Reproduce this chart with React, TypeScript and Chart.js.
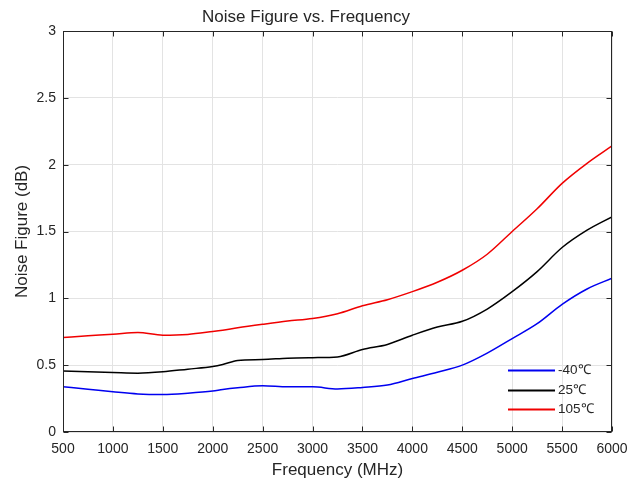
import React, { useEffect, useRef } from 'react';
import { Chart, registerables } from 'chart.js';

Chart.register(...registerables);

// ---- data ----
const frequencies = [500, 750, 1000, 1250, 1500, 1750, 2000, 2100, 2250, 2500, 2750, 3000, 3250, 3500, 3750, 4000, 4250, 4500, 4750, 5000, 5250, 5500, 5750, 6000];
const nfMinus40 = [0.338, 0.32, 0.301, 0.285, 0.281, 0.29, 0.306, 0.318, 0.331, 0.346, 0.338, 0.338, 0.322, 0.333, 0.351, 0.4, 0.447, 0.5, 0.59, 0.699, 0.81, 0.955, 1.07, 1.15];
const nf25 = [0.457, 0.45, 0.445, 0.44, 0.45, 0.47, 0.49, 0.505, 0.535, 0.542, 0.552, 0.556, 0.562, 0.617, 0.655, 0.724, 0.785, 0.828, 0.92, 1.05, 1.2, 1.38, 1.51, 1.61];
const nf105 = [0.707, 0.72, 0.731, 0.745, 0.724, 0.73, 0.752, 0.762, 0.78, 0.806, 0.83, 0.849, 0.885, 0.945, 0.99, 1.05, 1.12, 1.21, 1.33, 1.5, 1.67, 1.86, 2.01, 2.14];
const seriesLabels = ['-40℃', '25℃', '105℃'];
const seriesColors = ['#0000f0', '#000000', '#f00000'];
const xTicks = [500, 1000, 1500, 2000, 2500, 3000, 3500, 4000, 4500, 5000, 5500, 6000];
const yTicks = [0, 0.5, 1, 1.5, 2, 2.5, 3];
const chartTitle = 'Noise Figure vs. Frequency';
const xTitle = 'Frequency (MHz)';
const yTitle = 'Noise Figure (dB)';

const FONT = '"Liberation Sans", Arial, Helvetica, sans-serif';
const TEXT = '#262626';
const AXIS = '#262626';
const GRID = '#e3e3e3';

const framePlugin = {
  id: 'matlabFrame',
  afterDraw(chart: any) {
    const { ctx, chartArea: a, scales } = chart;
    ctx.save();
    ctx.strokeStyle = AXIS;
    ctx.lineWidth = 1;
    const L = Math.round(a.left) + 0.5;
    const R = Math.round(a.right) - 0.5;
    const T = Math.round(a.top) + 0.5;
    const B = Math.round(a.bottom) - 0.5;
    ctx.strokeRect(L, T, R - L, B - T);
    const tl = 5;
    ctx.beginPath();
    scales.x.ticks.forEach((t: any) => {
      const px = Math.round(scales.x.getPixelForValue(t.value)) + 0.5;
      ctx.moveTo(px, B); ctx.lineTo(px, B - tl);
      ctx.moveTo(px, T); ctx.lineTo(px, T + tl);
    });
    scales.y.ticks.forEach((t: any) => {
      const py = Math.round(scales.y.getPixelForValue(t.value)) + 0.5;
      ctx.moveTo(L, py); ctx.lineTo(L + tl, py);
      ctx.moveTo(R, py); ctx.lineTo(R - tl, py);
    });
    ctx.stroke();

    // legend (inside, lower right, no box)
    const ds = chart.data.datasets;
    ctx.font = `13.5px ${FONT}`;
    ctx.textBaseline = 'middle';
    ctx.textAlign = 'left';
    ds.forEach((d: any, i: number) => {
      const y = Math.round(a.bottom - 62 + i * 19.5) + 0.5;
      ctx.strokeStyle = d.borderColor;
      ctx.lineWidth = 2;
      ctx.beginPath();
      ctx.moveTo(a.right - 104, y);
      ctx.lineTo(a.right - 57, y);
      ctx.stroke();
      ctx.fillStyle = TEXT;
      ctx.fillText(d.label, a.right - 54, y);
    });
    ctx.restore();
  },
};

export default function App() {
  const ref = useRef<HTMLCanvasElement | null>(null);

  useEffect(() => {
    if (!ref.current) return;
    const series = [nfMinus40, nf25, nf105];
    const chart = new Chart(ref.current, {
      type: 'line',
      data: {
        datasets: series.map((vals, i) => ({
          label: seriesLabels[i],
          data: frequencies.map((f, j) => ({ x: f, y: vals[j] })),
          borderColor: seriesColors[i],
          backgroundColor: seriesColors[i],
          borderWidth: 1.5,
          pointRadius: 0,
          tension: 0,
          cubicInterpolationMode: 'monotone' as const,
          fill: false,
        })),
      },
      options: {
        animation: false,
        responsive: false,
        devicePixelRatio: 1,
        events: [],
        layout: { padding: { top: 0, right: 27, bottom: 0, left: 0 } },
        plugins: {
          legend: { display: false },
          tooltip: { enabled: false },
          title: {
            display: true,
            text: chartTitle,
            color: TEXT,
            font: { family: FONT, size: 17, weight: 'normal' },
            padding: { top: 7.5, bottom: 3.1 },
          },
        },
        scales: {
          x: {
            type: 'linear',
            min: 500,
            max: 6000,
            afterFit: (s: any) => { s.height = 50; },
            afterBuildTicks: (s: any) => { s.ticks = xTicks.map((v) => ({ value: v })); },
            grid: { color: GRID, drawTicks: false, lineWidth: 1 },
            border: { display: false },
            ticks: {
              color: TEXT,
              font: { family: FONT, size: 14 },
              padding: 9,
              maxRotation: 0,
              autoSkip: false,
              callback: (v: any) => String(v),
            },
            title: {
              display: true,
              text: xTitle,
              color: TEXT,
              font: { family: FONT, size: 17 },
              padding: { top: 1, bottom: 1 },
            },
          },
          y: {
            type: 'linear',
            min: 0,
            max: 3,
            afterFit: (s: any) => { s.width = 63; },
            afterBuildTicks: (s: any) => { s.ticks = yTicks.map((v) => ({ value: v })); },
            grid: { color: GRID, drawTicks: false, lineWidth: 1 },
            border: { display: false },
            ticks: {
              color: TEXT,
              font: { family: FONT, size: 14 },
              padding: 7,
              autoSkip: false,
              callback: (v: any) => String(v),
            },
            title: {
              display: true,
              text: yTitle,
              color: TEXT,
              font: { family: FONT, size: 17 },
              padding: { top: 12, bottom: 0 },
            },
          },
        },
      },
      plugins: [framePlugin],
    });
    return () => chart.destroy();
  }, []);

  return (
    <div style={{ position: 'fixed', left: 0, top: 0, width: 639, height: 482, background: '#ffffff' }}>
      <canvas ref={ref} width={639} height={482} style={{ width: 639, height: 482, display: 'block' }} />
    </div>
  );
}
